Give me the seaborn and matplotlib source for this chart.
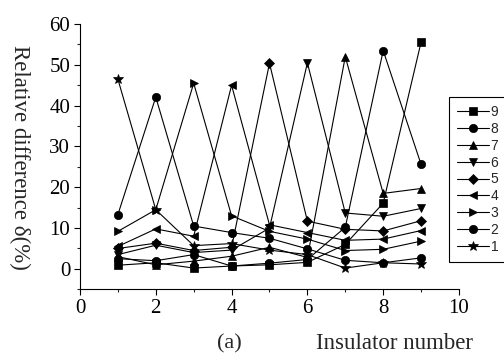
import numpy as np
import pandas as pd
import matplotlib
matplotlib.use("Agg")
import matplotlib.pyplot as plt
import seaborn as sns
from matplotlib.ticker import MultipleLocator

# insulator positions 1..9
insulator = [1, 2, 3, 4, 5, 6, 7, 8, 9]

# relative difference (%) for each case
case_1 = [46.5, 14.5, 5.7, 6.2, 4.6, 3.5, 0.2, 1.5, 1.2]
case_2 = [13.3, 42.1, 10.5, 8.9, 7.5, 4.9, 2.1, 1.5, 2.7]
case_3 = [9.2, 14.5, 45.5, 13.0, 9.2, 7.3, 4.5, 4.8, 6.8]
case_4 = [5.5, 9.8, 8.0, 45.0, 10.8, 8.9, 7.0, 7.3, 9.4]
case_5 = [5.0, 6.3, 4.5, 5.3, 50.4, 11.7, 9.7, 9.3, 11.8]
case_6 = [3.5, 5.8, 4.0, 4.6, 10.0, 50.5, 13.7, 12.9, 14.8]
case_7 = [3.0, 1.0, 1.9, 3.1, 5.3, 2.8, 52.0, 18.5, 19.7]
case_8 = [2.5, 2.0, 3.5, 0.7, 1.4, 2.3, 10.2, 53.5, 25.6]
case_9 = [0.9, 1.5, 0.2, 0.7, 1.0, 1.6, 6.0, 16.1, 55.6]

labels = ["9", "8", "7", "6", "5", "4", "3", "2", "1"]
series = [case_9, case_8, case_7, case_6, case_5, case_4, case_3, case_2, case_1]
markers = ["s", "o", "^", "v", "D", "<", ">", "o", "*"]
msizes = [5.5, 6, 6, 6, 5, 6, 6, 6, 7]

sns.set_style("ticks")
plt.rcParams["font.family"] = ["Liberation Serif", "DejaVu Serif"]

fig = plt.figure(figsize=(5.04, 3.56), dpi=100)
ax = fig.add_axes([0.1587, 0.1874, 0.752, 0.745])

for lab, vals, mk, ms in zip(labels, series, markers, msizes):
    sns.lineplot(x=insulator, y=vals, ax=ax, color="black", linewidth=0.8,
                 marker=mk, markersize=ms, markeredgewidth=0.5,
                 markeredgecolor="black", label=lab, legend=False)

ax.set_xlim(0, 10)
ax.set_ylim(-5, 60)
ax.xaxis.set_major_locator(MultipleLocator(2))
ax.xaxis.set_minor_locator(MultipleLocator(1))
ax.set_yticks([0, 10, 20, 30, 40, 50, 60])
ax.yaxis.set_minor_locator(MultipleLocator(5))
ax.tick_params(which="major", direction="out", length=4.5, width=0.8,
               labelsize=15, colors="black", pad=2.5)
ax.tick_params(which="minor", direction="out", length=2.5, width=0.8)
for side in ["top", "right"]:
    ax.spines[side].set_visible(False)
for side in ["left", "bottom"]:
    ax.spines[side].set_linewidth(0.8)
    ax.spines[side].set_color("black")

ax.set_xlabel("")
ax.set_ylabel("")
fig.text(0.038, 0.559, "Relative difference δ(%)", rotation=270,
         ha="center", va="center", fontsize=16.5)
fig.text(0.456, 0.034, "(a)", ha="center", va="center", fontsize=16)
fig.text(0.782, 0.034, "Insulator number", ha="center", va="center", fontsize=16.5)

handles, hl = ax.get_legend_handles_labels()
leg = fig.legend(handles, hl, loc="upper left",
                 bbox_to_anchor=(449 / 504, 1 - 97 / 356),
                 prop={"family": "Liberation Sans", "size": 10},
                 handlelength=2.3, handletextpad=0.1, labelspacing=0.2,
                 borderpad=0.6, borderaxespad=0, fancybox=False,
                 framealpha=1, edgecolor="black")
leg.get_frame().set_linewidth(0.8)

fig.savefig("out.png", dpi=100)
